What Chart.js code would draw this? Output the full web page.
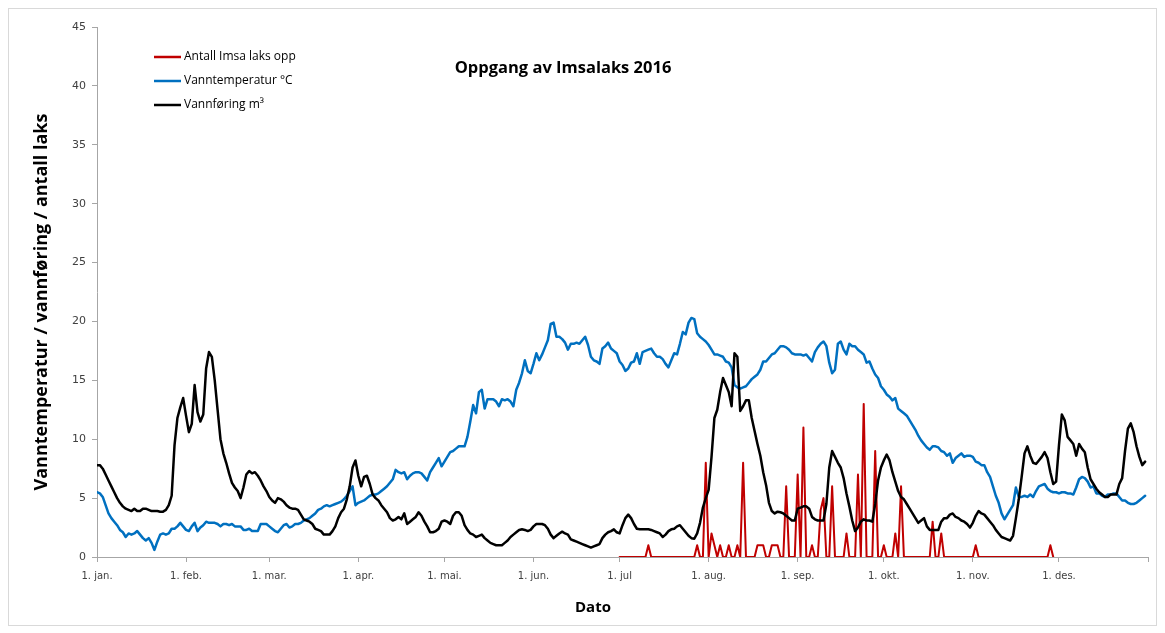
<!DOCTYPE html>
<html>
<head>
<meta charset="utf-8">
<title>Oppgang av Imsalaks 2016</title>
<script src="https://cdn.jsdelivr.net/npm/chart.js@4.4.1/dist/chart.umd.min.js"></script>
<style>
  html, body { margin: 0; padding: 0; background: #ffffff; }
  canvas { display: block; }
</style>
</head>
<body>
<canvas id="chart" width="1165" height="633"></canvas>
<script>
// Day index 0 = 1. januar 2016 (leap year, 366 days)
const monthStarts = [0, 31, 60, 91, 121, 152, 182, 213, 244, 274, 305, 335, 366];
const monthLabels = ['1. jan.', '1. feb.', '1. mar.', '1. apr.', '1. mai.', '1. jun.', '1. jul',
                     '1. aug.', '1. sep.', '1. okt.', '1. nov.', '1. des.', ''];
const yTicks = [0, 5, 10, 15, 20, 25, 30, 35, 40, 45];

const seriesNames = ['Antall Imsa laks opp', 'Vanntemperatur °C', 'Vannføring m³'];

// Daily count of salmon going up, registered from 1. juli (day 182) to day 333
const fishStartDay = 182;
const fishCounts = [
  0, 0, 0, 0, 0, 0, 0, 0, 0, 0,
  1, 0, 0, 0, 0, 0, 0, 0, 0, 0,
  0, 0, 0, 0, 0, 0, 0, 1, 0, 0,
  8, 0, 2, 1, 0, 1, 0, 0, 1, 0,
  0, 1, 0, 8, 0, 0, 0, 0, 1, 1,
  1, 0, 0, 1, 1, 1, 0, 0, 6, 0,
  0, 0, 7, 0, 11, 0, 0, 1, 0, 0,
  4, 5, 0, 0, 6, 0, 0, 0, 0, 2,
  0, 0, 0, 7, 0, 13, 0, 0, 0, 9,
  0, 0, 1, 0, 0, 0, 2, 0, 6, 0,
  0, 0, 0, 0, 0, 0, 0, 0, 0, 3,
  0, 0, 2, 0, 0, 0, 0, 0, 0, 0,
  0, 0, 0, 0, 1, 0, 0, 0, 0, 0,
  0, 0, 0, 0, 0, 0, 0, 0, 0, 0,
  0, 0, 0, 0, 0, 0, 0, 0, 0, 0,
  1, 0
];

// Daily water temperature (°C), day 0..365
const temperature = [
  5.5, 5.4, 5.1, 4.4, 3.7, 3.3, 3.0, 2.7, 2.3, 2.1,
  1.7, 2.0, 1.9, 2.0, 2.2, 1.9, 1.6, 1.4, 1.6, 1.2,
  0.6, 1.3, 1.9, 2.0, 1.9, 2.0, 2.4, 2.4, 2.6, 2.9,
  2.6, 2.3, 2.2, 2.6, 2.9, 2.2, 2.5, 2.7, 3.0, 2.9,
  2.9, 2.9, 2.8, 2.6, 2.8, 2.8, 2.7, 2.8, 2.6, 2.6,
  2.6, 2.3, 2.3, 2.4, 2.2, 2.2, 2.2, 2.8, 2.8, 2.8,
  2.6, 2.4, 2.2, 2.1, 2.4, 2.7, 2.8, 2.5, 2.6, 2.8,
  2.8, 2.9, 3.1, 3.2, 3.3, 3.5, 3.7, 4.0, 4.1, 4.3,
  4.4, 4.3, 4.4, 4.5, 4.6, 4.7, 4.9, 5.2, 5.6, 6.0,
  4.4, 4.6, 4.7, 4.8, 5.0, 5.2, 5.3, 5.3, 5.4, 5.6,
  5.8, 6.0, 6.3, 6.6, 7.4, 7.2, 7.1, 7.2, 6.6, 6.9,
  7.1, 7.2, 7.2, 7.1, 6.8, 6.5, 7.2, 7.6, 8.0, 8.4,
  7.7, 8.1, 8.5, 8.9, 9.0, 9.2, 9.4, 9.4, 9.4, 10.2,
  11.5, 12.9, 12.2, 14.0, 14.2, 12.6, 13.4, 13.4, 13.4, 13.2,
  12.8, 13.4, 13.3, 13.4, 13.2, 12.8, 14.2, 14.8, 15.6, 16.7,
  15.8, 15.6, 16.4, 17.3, 16.7, 17.2, 17.8, 18.4, 19.8, 19.9,
  18.7, 18.7, 18.5, 18.2, 17.6, 18.1, 18.1, 18.2, 18.1, 18.4,
  18.7, 18.0, 17.0, 16.7, 16.6, 16.4, 17.7, 17.9, 18.2, 17.7,
  17.5, 17.3, 16.6, 16.3, 15.8, 16.0, 16.5, 16.6, 17.3, 16.4,
  17.4, 17.5, 17.6, 17.7, 17.3, 17.0, 17.0, 16.8, 16.4, 16.1,
  16.7, 17.3, 17.2, 18.1, 19.1, 18.9, 19.9, 20.3, 20.2, 19.0,
  18.7, 18.5, 18.3, 18.0, 17.6, 17.2, 17.2, 17.1, 17.0, 16.6,
  16.5, 16.1, 14.6, 14.4, 14.3, 14.4, 14.5, 14.8, 15.1, 15.3,
  15.5, 15.9, 16.6, 16.6, 16.9, 17.2, 17.3, 17.6, 17.9, 17.9,
  17.8, 17.6, 17.3, 17.2, 17.2, 17.2, 17.1, 17.2, 16.9, 16.6,
  17.4, 17.8, 18.1, 18.3, 17.9, 16.5, 15.6, 15.9, 18.1, 18.3,
  17.6, 17.2, 18.1, 17.9, 17.9, 17.6, 17.4, 17.2, 16.5, 16.6,
  16.0, 15.5, 15.2, 14.5, 14.2, 13.8, 13.6, 13.3, 13.5, 12.6,
  12.4, 12.2, 12.0, 11.6, 11.2, 10.8, 10.3, 9.9, 9.6, 9.3,
  9.1, 9.4, 9.4, 9.3, 9.0, 8.9, 8.6, 8.8, 8.0, 8.4,
  8.6, 8.8, 8.5, 8.6, 8.6, 8.5, 8.1, 8.0, 7.8, 7.8,
  7.2, 6.8, 6.0, 5.2, 4.6, 3.7, 3.2, 3.6, 4.0, 4.4,
  5.9, 5.1, 5.1, 5.2, 5.1, 5.3, 5.1, 5.6, 6.0, 6.1,
  6.2, 5.8, 5.6, 5.5, 5.5, 5.4, 5.5, 5.5, 5.4, 5.4,
  5.3, 5.9, 6.6, 6.8, 6.7, 6.4, 5.9, 6.0, 5.4, 5.4,
  5.2, 5.1, 5.3, 5.3, 5.4, 5.4, 5.1, 4.8, 4.8, 4.6,
  4.5, 4.5, 4.6, 4.8, 5.0, 5.2
];

// Daily water flow (m³/s), day 0..365
const flow = [
  7.8, 7.8, 7.5, 7.0, 6.5, 6.0, 5.5, 5.0, 4.6, 4.3,
  4.1, 4.0, 3.9, 4.1, 3.9, 3.9, 4.1, 4.1, 4.0, 3.9,
  3.9, 3.9, 3.85, 3.85, 4.0, 4.4, 5.2, 9.5, 11.8, 12.7,
  13.5, 12.0, 10.6, 11.3, 14.6, 12.3, 11.5, 12.1, 16.0, 17.4,
  17.0, 15.0, 12.5, 10.0, 8.8, 8.0, 7.1, 6.3, 5.9, 5.6,
  5.0, 5.9, 7.0, 7.3, 7.1, 7.2, 6.9, 6.5, 6.0, 5.6,
  5.1, 4.8, 4.6, 5.0, 4.9, 4.7, 4.4, 4.2, 4.1, 4.1,
  4.0, 3.6, 3.2, 3.1, 3.0, 2.8, 2.4, 2.3, 2.2, 1.9,
  1.9, 1.9, 2.2, 2.6, 3.3, 3.8, 4.1, 4.9, 6.0, 7.6,
  8.2, 6.9, 6.0, 6.8, 6.9, 6.2, 5.3, 5.0, 4.8, 4.4,
  4.1, 3.8, 3.3, 3.1, 3.2, 3.4, 3.2, 3.7, 2.8, 3.0,
  3.2, 3.4, 3.8, 3.5, 3.0, 2.6, 2.1, 2.1, 2.2, 2.4,
  3.0, 3.1, 3.0, 2.8, 3.5, 3.8, 3.8, 3.5, 2.7, 2.3,
  2.0, 1.9, 1.7, 1.8, 1.9, 1.6, 1.4, 1.2, 1.1, 1.0,
  1.0, 1.0, 1.2, 1.4, 1.7, 1.9, 2.1, 2.3, 2.35, 2.3,
  2.2, 2.3, 2.6, 2.8, 2.8, 2.8, 2.7, 2.4, 1.9, 1.6,
  1.8, 2.0, 2.15, 2.0, 1.9, 1.5, 1.4, 1.3, 1.2, 1.1,
  1.0, 0.9, 0.8, 0.9, 1.0, 1.1, 1.6, 1.9, 2.1, 2.2,
  2.35, 2.1, 2.0, 2.7, 3.3, 3.6, 3.3, 2.8, 2.4, 2.35,
  2.35, 2.35, 2.35, 2.3, 2.2, 2.1, 2.0, 1.7, 1.9, 2.2,
  2.35, 2.4, 2.6, 2.7, 2.4, 2.1, 1.8, 1.6, 1.55, 2.0,
  2.9, 4.2, 5.0, 5.7, 8.5, 11.8, 12.5, 14.0, 15.2, 14.6,
  14.0, 12.8, 17.3, 17.0, 12.4, 12.8, 13.3, 13.3, 11.8, 10.7,
  9.6, 8.6, 7.2, 6.1, 4.6, 3.9, 3.7, 3.85, 3.8, 3.7,
  3.5, 3.3, 3.1, 3.1, 4.1, 4.2, 4.3, 4.3, 4.1, 3.4,
  3.2, 3.1, 3.1, 3.1, 4.5, 7.6, 9.0, 8.5, 8.0, 7.6,
  6.7, 5.4, 4.3, 3.1, 2.2, 2.5, 3.0, 3.2, 3.1, 3.1,
  3.0, 4.5, 6.5, 7.6, 8.2, 8.7, 8.2, 7.2, 6.4, 5.6,
  5.1, 4.9, 4.5, 4.1, 3.7, 3.3, 2.9, 3.1, 3.3, 2.6,
  2.3, 2.3, 2.3, 2.3, 3.0, 3.3, 3.3, 3.6, 3.7, 3.4,
  3.3, 3.1, 3.0, 2.8, 2.5, 2.9, 3.5, 3.9, 3.7, 3.6,
  3.3, 3.0, 2.7, 2.3, 2.0, 1.7, 1.6, 1.5, 1.4, 1.8,
  3.3, 4.9, 6.8, 8.8, 9.4, 8.6, 8.0, 7.9, 8.2, 8.5,
  8.9, 8.4, 7.2, 6.2, 6.4, 9.5, 12.1, 11.6, 10.2, 9.9,
  9.6, 8.6, 9.6, 9.2, 8.9, 7.6, 6.6, 6.2, 5.8, 5.5,
  5.3, 5.1, 5.1, 5.3, 5.3, 5.3, 6.2, 6.7, 9.0, 10.9,
  11.35, 10.6, 9.4, 8.5, 7.8, 8.1
];

const colors = { fish: '#c00000', temp: '#0070c0', flow: '#000000' };

const toPoints = (values, start) => values.map((v, i) => ({ x: start + i, y: v }));

// Black flow line on top, then temperature, fish counts underneath
const datasets = [
  { label: seriesNames[2], data: toPoints(flow, 0), borderColor: colors.flow, borderWidth: 2.5 },
  { label: seriesNames[1], data: toPoints(temperature, 0), borderColor: colors.temp, borderWidth: 2.5 },
  { label: seriesNames[0], data: toPoints(fishCounts, fishStartDay), borderColor: colors.fish, borderWidth: 2 }
];

const textFont = "'Open Sans', Lato, sans-serif";
const tickFont = "'DejaVu Sans', Verdana, sans-serif";

// Frame, title, axis titles and a vertical legend inside the plot
const decor = {
  id: 'decor',
  afterDraw(chart) {
    const ctx = chart.ctx;
    const area = chart.chartArea;
    ctx.save();

    ctx.strokeStyle = '#d9d9d9';
    ctx.lineWidth = 1;
    ctx.strokeRect(8.5, 8.5, 1148, 617);

    ctx.fillStyle = '#000000';
    ctx.textAlign = 'center';
    ctx.textBaseline = 'middle';
    ctx.font = "bold 16.5px " + textFont;
    ctx.fillText('Oppgang av Imsalaks 2016', 563, 68);

    ctx.font = "bold 15px " + textFont;
    ctx.fillText('Dato', 593, 608);

    ctx.save();
    ctx.font = "bold 18px " + textFont;
    ctx.translate(42, (area.top + area.bottom) / 2 + 10);
    ctx.rotate(-Math.PI / 2);
    ctx.fillText('Vanntemperatur / vannføring / antall laks', 0, 0);
    ctx.restore();

    // legend rows: fish, temperature, flow
    const rows = [
      { text: seriesNames[0], color: colors.fish },
      { text: seriesNames[1], color: colors.temp },
      { text: seriesNames[2], color: colors.flow }
    ];
    ctx.font = "12px " + textFont;
    ctx.textAlign = 'left';
    rows.forEach((r, i) => {
      const y = 57 + i * 24;
      ctx.strokeStyle = r.color;
      ctx.lineWidth = 2.5;
      ctx.beginPath();
      ctx.moveTo(154, y);
      ctx.lineTo(181, y);
      ctx.stroke();
      ctx.fillStyle = '#000000';
      ctx.fillText(r.text, 184, y);
    });
    ctx.restore();
  }
};

new Chart(document.getElementById('chart'), {
  type: 'line',
  data: { datasets },
  plugins: [decor],
  options: {
    responsive: false,
    animation: false,
    devicePixelRatio: 1,
    layout: { padding: { left: 0, right: 17, top: 27, bottom: 0 } },
    plugins: {
      legend: { display: false },
      title: { display: false },
      tooltip: { enabled: false }
    },
    elements: {
      point: { radius: 0, hoverRadius: 0 },
      line: { tension: 0, fill: false, borderJoinStyle: 'round', borderCapStyle: 'round' }
    },
    scales: {
      x: {
        type: 'linear',
        min: 0,
        max: 366,
        afterBuildTicks: s => { s.ticks = monthStarts.map(v => ({ value: v })); },
        afterFit: s => { s.height = 76; },
        ticks: {
          autoSkip: false,
          maxRotation: 0,
          padding: 8,
          color: '#404040',
          font: { family: tickFont, size: 10 },
          callback: v => monthLabels[monthStarts.indexOf(v)]
        },
        grid: { drawOnChartArea: false, drawTicks: true, tickLength: 5, color: '#a6a6a6' },
        border: { display: true, color: '#a6a6a6', width: 1 }
      },
      y: {
        min: 0,
        max: 45,
        afterBuildTicks: s => { s.ticks = yTicks.map(v => ({ value: v })); },
        afterFit: s => { s.width = 97; },
        ticks: {
          padding: 6,
          color: '#404040',
          font: { family: tickFont, size: 11 }
        },
        grid: { drawOnChartArea: false, drawTicks: true, tickLength: 5, color: '#a6a6a6' },
        border: { display: true, color: '#a6a6a6', width: 1 }
      }
    }
  }
});
</script>
</body>
</html>
